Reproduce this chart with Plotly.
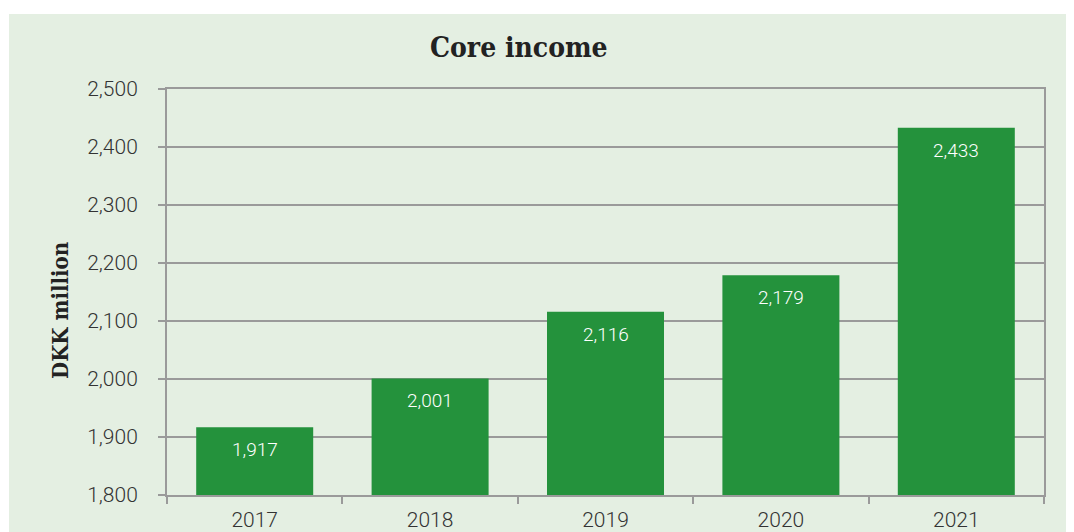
import plotly.graph_objects as go

years = ["2017", "2018", "2019", "2020", "2021"]
core_income = [1917, 2001, 2116, 2179, 2433]
value_labels = ["1,917", "2,001", "2,116", "2,179", "2,433"]
y_ticks = [1800, 1900, 2000, 2100, 2200, 2300, 2400, 2500]
y_tick_labels = ["1,800", "1,900", "2,000", "2,100", "2,200", "2,300", "2,400", "2,500"]

# page has an 8px body margin; figure coordinates are offset by 8px
W, H = 1066, 524
L, R, T, B = 159, 30, 81, 37
PW, PH = W - L - R, H - T - B
BG = "#e4efe2"
BAR = "#24923c"
GRID = "#9a9a9a"
TXT = "#333333"


def px_x(x):
    return (x - 8 - L) / PW


def px_y(y):
    return (H - B - (y - 8)) / PH


fig = go.Figure()
fig.add_trace(go.Bar(x=years, y=core_income, marker=dict(color=BAR, line=dict(width=0)),
                     hoverinfo="skip"))

for i, (v, lab) in enumerate(zip(core_income, value_labels)):
    fig.add_annotation(x=i, y=v, text=lab, showarrow=False, yanchor="top", yshift=-9,
                       font=dict(family="Roboto", size=19, color="white", weight=300))

fig.add_shape(type="rect", xref="paper", yref="paper",
              x0=px_x(9), x1=px_x(1080), y0=px_y(540), y1=px_y(14),
              fillcolor=BG, line=dict(width=0), layer="below")

fig.add_annotation(xref="paper", yref="paper", x=px_x(519), y=px_y(47),
                   text="<b>Core income</b>", showarrow=False,
                   xanchor="center", yanchor="middle",
                   font=dict(family="DejaVu Serif Condensed, DejaVu Serif", size=28, color="#222222"))
fig.add_annotation(xref="paper", yref="paper", x=px_x(60), y=px_y(311),
                   text="<b>DKK million</b>", showarrow=False,
                   textangle=-90, xanchor="center", yanchor="middle",
                   font=dict(family="DejaVu Serif Condensed, DejaVu Serif", size=22, color="#222222"))

fig.update_layout(
    width=W, height=H,
    margin=dict(l=L, r=R, t=T, b=B, autoexpand=False),
    paper_bgcolor="white", plot_bgcolor=BG,
    bargap=0.333, showlegend=False,
    xaxis=dict(type="category", categoryorder="array", categoryarray=years,
               range=[-0.5, len(years) - 0.5],
               showline=True, linecolor=GRID, linewidth=2, mirror=True,
               ticks="outside", tickson="boundaries", ticklen=7, tickcolor=GRID, tickwidth=2,
               showgrid=False, ticklabelstandoff=5, tickangle=0,
               tickfont=dict(family="Roboto", size=21, color=TXT, weight=300)),
    yaxis=dict(range=[1800, 2500], tickvals=y_ticks, ticktext=y_tick_labels,
               showline=True, linecolor=GRID, linewidth=2, mirror=True,
               ticks="outside", ticklen=7, tickcolor=GRID, tickwidth=2,
               showgrid=True, gridcolor=GRID, gridwidth=1.5, zeroline=False,
               ticklabelstandoff=16,
               tickfont=dict(family="Roboto", size=21, color=TXT, weight=300)),
)

fig.write_html("out.html")
